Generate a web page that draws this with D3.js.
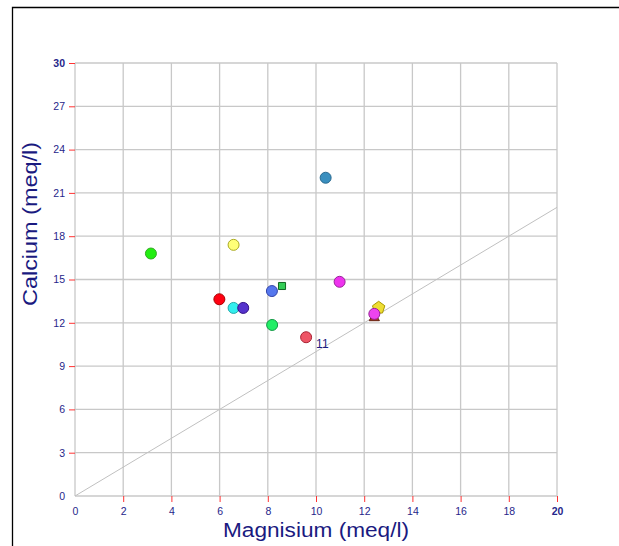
<!DOCTYPE html>
<html>
<head>
<meta charset="utf-8">
<script src="https://cdn.jsdelivr.net/npm/d3@7"></script>
<style>
  body { margin: 0; background: #fff; }
  svg { display: block; font-family: "Liberation Sans", Arial, sans-serif; }
</style>
</head>
<body>
<svg id="chart" width="619" height="546"></svg>
<script>
// ===== Calcium vs Magnisium scatter =====

const magnesium = [3.15, 6.58, 10.4, 8.17, 8.59, 5.99, 6.58, 6.98, 8.18, 9.59, 10.98, 12.6, 12.42, 12.42];
const calcium   = [16.8, 17.4, 22.05, 14.2, 14.55, 13.63, 13.03, 13.03, 11.85, 11.0, 14.84, 13.04, 12.62, 12.35];
const fills     = ['#22ee11', '#ffff77', '#3a8fbf', '#5577ee', '#33cc55', '#ff0011', '#33eeee', '#5533cc',
                   '#22ee66', '#ee5566', '#ee33ee', '#eedd33', '#ee44ee', '#aa3322'];
const strokes   = ['#33aa22', '#aaaa22', '#2a6a90', '#3344aa', '#116622', '#aa0000', '#22aaaa', '#331188',
                   '#119944', '#aa2233', '#992299', '#aa9900', '#992299', '#662211'];
const shapes    = ['circle', 'circle', 'circle', 'circle', 'square', 'circle', 'circle', 'circle',
                   'circle', 'circle', 'circle', 'pentagon', 'circle', 'triangle'];
const pointLabels = [{ x: 9.59, y: 11.0, text: '11' }];

const xTicks = [0, 2, 4, 6, 8, 10, 12, 14, 16, 18, 20];
const yTicks = [0, 3, 6, 9, 12, 15, 18, 21, 24, 27, 30];

const svg = d3.select('#chart');

// frame
svg.append('path')
    .attr('d', 'M12.5,546 L12.5,7.5 L619,7.5')
    .attr('fill', 'none')
    .attr('stroke', '#000')
    .attr('stroke-width', 1.3);

const x = d3.scaleLinear().domain([0, 20]).range([75, 557]);
const y = d3.scaleLinear().domain([0, 30]).range([496, 63]);

// grid
svg.append('g').selectAll('line').data(xTicks).join('line')
    .attr('x1', d => x(d)).attr('x2', d => x(d))
    .attr('y1', y(0)).attr('y2', y(30))
    .attr('stroke', '#c8c8c8').attr('stroke-width', 1.3);
svg.append('g').selectAll('line').data(yTicks).join('line')
    .attr('x1', x(0)).attr('x2', x(20))
    .attr('y1', d => y(d)).attr('y2', d => y(d))
    .attr('stroke', '#c8c8c8').attr('stroke-width', 1.3);

// 1:1 line
svg.append('line')
    .attr('x1', x(0)).attr('y1', y(0))
    .attr('x2', x(20)).attr('y2', y(20))
    .attr('stroke', '#c0c0c0').attr('stroke-width', 1);

// axes
const xAxis = svg.append('g')
    .attr('transform', `translate(0,${y(0)})`)
    .call(d3.axisBottom(x).tickValues(xTicks).tickSize(6).tickPadding(4));
const yAxis = svg.append('g')
    .attr('transform', `translate(${x(0)},0)`)
    .call(d3.axisLeft(y).tickValues(yTicks).tickSize(6).tickPadding(4));

[xAxis, yAxis].forEach(g => {
    g.select('.domain').remove();
    g.selectAll('.tick line').attr('stroke', '#ff3333');
    g.selectAll('.tick text')
        .attr('fill', '#26268a')
        .attr('font-size', 10.5)
        .attr('font-family', '"Liberation Sans", Arial, sans-serif')
        .attr('font-weight', d => (d === 20 || d === 30) ? 'bold' : 'normal');
});
// keep the zero ticks unmarked like the original
xAxis.selectAll('.tick').filter(d => d === 0).select('line').remove();
yAxis.selectAll('.tick').filter(d => d === 0).select('line').remove();
xAxis.selectAll('.tick text').attr('dy', '0.9em');

// titles (the original font is drawn a little wider than Arial)
svg.append('text')
    .attr('x', 316).attr('y', 537)
    .attr('text-anchor', 'middle')
    .attr('fill', '#1a1a80')
    .attr('font-size', 20)
    .attr('textLength', 186)
    .attr('lengthAdjust', 'spacingAndGlyphs')
    .text('Magnisium (meq/l)');
svg.append('text')
    .attr('transform', 'translate(37,224) rotate(-90)')
    .attr('text-anchor', 'middle')
    .attr('fill', '#1a1a80')
    .attr('font-size', 20)
    .attr('textLength', 164)
    .attr('lengthAdjust', 'spacingAndGlyphs')
    .text('Calcium (meq/l)');

// points
const symbolType = {
    circle: d3.symbolCircle,
    square: d3.symbolSquare,
    triangle: d3.symbolTriangle
};
const symbolSize = { circle: 95, square: 50, triangle: 45 };

function pentagon(r) {
    const pts = d3.range(5).map(i => {
        const a = -Math.PI / 2 + i * 2 * Math.PI / 5;
        return [r * Math.cos(a), r * Math.sin(a)];
    });
    return 'M' + pts.join('L') + 'Z';
}

const order = d3.range(magnesium.length).sort((a, b) => {
    // draw triangle first, then others on top
    return (shapes[a] === 'triangle' ? -1 : 0) - (shapes[b] === 'triangle' ? -1 : 0);
});

svg.append('g').selectAll('path').data(order).join('path')
    .attr('transform', i => `translate(${x(magnesium[i])},${y(calcium[i])})`)
    .attr('d', i => shapes[i] === 'pentagon'
        ? pentagon(6.5)
        : d3.symbol().type(symbolType[shapes[i]]).size(symbolSize[shapes[i]])())
    .attr('fill', i => fills[i])
    .attr('stroke', i => strokes[i])
    .attr('stroke-width', 1);

svg.append('g').selectAll('text').data(pointLabels).join('text')
    .attr('x', d => x(d.x) + 10)
    .attr('y', d => y(d.y) + 11)
    .attr('fill', '#1a1a80')
    .attr('font-size', 12)
    .text(d => d.text);
</script>
</body>
</html>
